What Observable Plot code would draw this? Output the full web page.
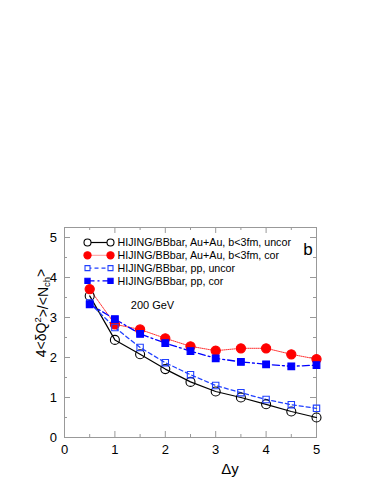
<!DOCTYPE html>
<html><head><meta charset="utf-8">
<script src="https://cdn.jsdelivr.net/npm/d3@7"></script>
<script src="https://cdn.jsdelivr.net/npm/@observablehq/plot@0.6"></script>
<style>body{margin:0;background:#fff;} svg{display:block}</style>
</head><body><div id="chart"></div>
<script>
const deltaY = [0.5, 1, 1.5, 2, 2.5, 3, 3.5, 4, 4.5, 5];
const auauUncor = [3.54, 2.44, 2.08, 1.71, 1.39, 1.15, 1.00, 0.83, 0.65, 0.50];
const auauCor   = [3.71, 2.83, 2.70, 2.48, 2.28, 2.17, 2.23, 2.23, 2.08, 1.96];
const ppUncor   = [3.36, 2.75, 2.25, 1.87, 1.57, 1.30, 1.12, 0.95, 0.82, 0.73];
const ppCor     = [3.33, 2.96, 2.59, 2.36, 2.16, 1.98, 1.89, 1.83, 1.78, 1.81];
const seriesNames = [
  "HIJING/BBbar, Au+Au, b<3fm, uncor",
  "HIJING/BBbar, Au+Au, b<3fm, cor",
  "HIJING/BBbar, pp, uncor",
  "HIJING/BBbar, pp, cor"
];
const xTicks = [0, 1, 2, 3, 4, 5];
const xMinor = [0.5, 1.5, 2.5, 3.5, 4.5];
const yTicks = [0, 1, 2, 3, 4, 5];
const yMinor = [0.5, 1.5, 2.5, 3.5, 4.5];
const xDomain = [0, 5];
const yDomain = [0, 5.25];

const W = 382, H = 494;
const mL = 64, mR = 66, mT = 227, mB = 57;
const iW = W - mL - mR, iH = H - mT - mB;
const font = "'Liberation Sans', Arial, Helvetica, sans-serif";
const frameColor = "#999";

const styles = [
  {values: auauUncor, stroke: "#000", dash: null, width: 1.2, symbol: "circle", fill: "none", mstroke: "#000", r: 4.5},
  {values: auauCor, stroke: "#ff3030", dash: "1,1", width: 1, symbol: "circle", fill: "#ff0000", mstroke: "#ff0000", r: 4.6},
  {values: ppUncor, stroke: "#2040ff", dash: "4,3", width: 1.3, symbol: "square", fill: "none", mstroke: "#2040ff", r: 3.6},
  {values: ppCor, stroke: "#0000ff", dash: "7,3,2,3", width: 1.3, symbol: "square", fill: "#0000ff", mstroke: "#0000ff", r: 3.8}
];

const marks = [];
marks.push(Plot.frame({stroke: frameColor}));
// inward ticks on all four sides
const tick = (arr, len) => [
  Plot.tickX(arr, {x: d => d, stroke: frameColor, insetTop: iH - len}),
  Plot.tickX(arr, {x: d => d, stroke: frameColor, insetBottom: iH - len})
];
const tickYs = (arr, len) => [
  Plot.tickY(arr, {y: d => d, stroke: frameColor, insetRight: iW - len}),
  Plot.tickY(arr, {y: d => d, stroke: frameColor, insetLeft: iW - len})
];
marks.push(...tick(xTicks, 6), ...tick(xMinor, 3), ...tickYs(yTicks, 6), ...tickYs(yMinor, 3));
marks.push(Plot.axisX(xTicks, {tickSize: 0, tickPadding: 7, fontSize: 13, label: null}));
marks.push(Plot.axisY(yTicks, {tickSize: 0, tickPadding: 7.5, fontSize: 13, label: null}));

styles.forEach((s, i) => {
  const data = deltaY.map((x, j) => ({x, y: s.values[j]}));
  marks.push(Plot.line(data, {x: "x", y: "y", stroke: s.stroke, strokeWidth: s.width, strokeDasharray: s.dash}));
});
styles.forEach((s, i) => {
  const data = deltaY.map((x, j) => ({x, y: s.values[j]}));
  marks.push(Plot.dot(data, {x: "x", y: "y", symbol: s.symbol, r: s.r, fill: s.fill === "none" ? "white" : s.fill, fillOpacity: s.fill === "none" ? 0 : 1, stroke: s.mstroke, strokeWidth: 1.1}));
});

const chart = Plot.plot({
  width: W, height: H,
  marginLeft: mL, marginRight: mR, marginTop: mT, marginBottom: mB,
  x: {domain: xDomain},
  y: {domain: yDomain},
  style: {fontFamily: font, fontSize: "13px", color: "#000", background: "#fff"},
  marks
});
document.getElementById("chart").appendChild(chart);

const svg = d3.select(chart);
// legend
const leg = svg.append("g").attr("font-family", font).attr("font-size", 10.7).attr("text-anchor", "start");
styles.forEach((s, i) => {
  const yy = 242.5 + i * 12.8;
  const x1 = 87.5, x2 = 110.5;
  const lr = s.r * 0.78;
  leg.append("line").attr("x1", x1).attr("x2", x2).attr("y1", yy).attr("y2", yy)
    .attr("stroke", s.stroke).attr("stroke-width", s.width).attr("stroke-dasharray", s.dash);
  [x1, x2].forEach(xx => {
    const sym = s.symbol === "circle" ? d3.symbolCircle : d3.symbolSquare;
    leg.append("path").attr("d", d3.symbol(sym, Math.PI * lr * lr)())
      .attr("transform", `translate(${xx},${yy})`)
      .attr("fill", s.fill === "none" ? "white" : s.fill)
      .attr("stroke", s.mstroke).attr("stroke-width", 1.1);
  });
  leg.append("text").attr("x", 117.5).attr("y", yy).attr("dy", "0.35em").attr("text-anchor", "start").text(seriesNames[i]);
});
// annotations
svg.append("text").attr("x", 152.5).attr("y", 305).attr("dy", "0.35em").attr("text-anchor", "middle")
  .attr("font-family", font).attr("font-size", 11).text("200 GeV");
svg.append("text").attr("x", 308).attr("y", 249).attr("dy", "0.35em").attr("text-anchor", "middle")
  .attr("font-family", font).attr("font-size", 17).text("b");
svg.append("text").attr("x", 230).attr("y", 469).attr("dy", "0.35em").attr("text-anchor", "middle")
  .attr("font-family", font).attr("font-size", 15).text("Δy");
const yl = svg.append("text").attr("transform", "translate(45.5,313) rotate(-90)")
  .attr("text-anchor", "middle").attr("font-family", font).attr("font-size", 14);
yl.append("tspan").text("4<δQ");
yl.append("tspan").attr("dy", "-0.45em").attr("font-size", 9.5).text("2");
yl.append("tspan").attr("dy", "0.45em").text(">/<N");
yl.append("tspan").attr("dy", "0.3em").attr("font-size", 9.5).text("ch");
yl.append("tspan").attr("dy", "-0.3em").text(">");
</script>
</body></html>
